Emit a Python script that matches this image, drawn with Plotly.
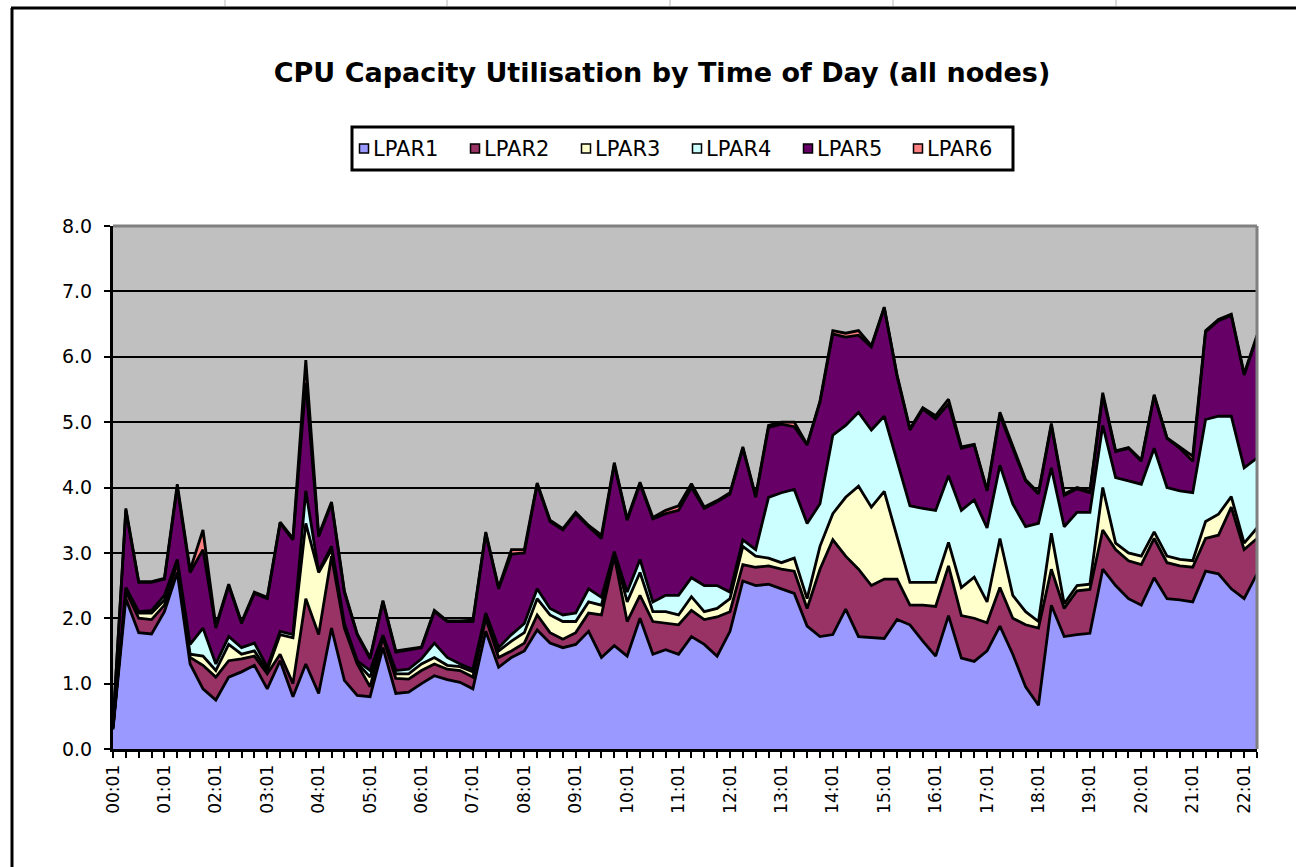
import plotly.graph_objects as go

# Sample times (15-minute intervals)
times = [
    "00:01", "00:16", "00:31", "00:46", "01:01", "01:16", "01:31", "01:46",
    "02:01", "02:16", "02:31", "02:46", "03:01", "03:16", "03:31", "03:46",
    "04:01", "04:16", "04:31", "04:46", "05:01", "05:16", "05:31", "05:46",
    "06:01", "06:16", "06:31", "06:46", "07:01", "07:16", "07:31", "07:46",
    "08:01", "08:16", "08:31", "08:46", "09:01", "09:16", "09:31", "09:46",
    "10:01", "10:16", "10:31", "10:46", "11:01", "11:16", "11:31", "11:46",
    "12:01", "12:16", "12:31", "12:46", "13:01", "13:16", "13:31", "13:46",
    "14:01", "14:16", "14:31", "14:46", "15:01", "15:16", "15:31", "15:46",
    "16:01", "16:16", "16:31", "16:46", "17:01", "17:16", "17:31", "17:46",
    "18:01", "18:16", "18:31", "18:46", "19:01", "19:16", "19:31", "19:46",
    "20:01", "20:16", "20:31", "20:46", "21:01", "21:16", "21:31", "21:46",
    "22:01", "22:16",
]

# CPU capacity used per LPAR (processing units)
lpar1 = [0.30, 2.30, 1.78, 1.76, 2.10, 2.70, 1.30, 0.92, 0.75, 1.10,
         1.18, 1.28, 0.92, 1.35, 0.80, 1.30, 0.85, 1.85, 1.05, 0.82,
         0.80, 1.55, 0.85, 0.87, 1.00, 1.12, 1.06, 1.02, 0.92, 1.80,
         1.25, 1.40, 1.50, 1.82, 1.62, 1.55, 1.60, 1.80, 1.40, 1.58,
         1.42, 2.00, 1.45, 1.52, 1.45, 1.72, 1.60, 1.42, 1.80, 2.57,
         2.50, 2.52, 2.45, 2.38, 1.88, 1.72, 1.75, 2.14, 1.72, 1.70,
         1.69, 1.98, 1.90, 1.65, 1.42, 2.04, 1.39, 1.34, 1.50, 1.88,
         1.45, 0.95, 0.67, 2.20, 1.72, 1.75, 1.77, 2.75, 2.50, 2.30,
         2.20, 2.62, 2.30, 2.28, 2.25, 2.72, 2.68, 2.45, 2.30, 2.68]
lpar2 = [0.03, 0.12, 0.22, 0.22, 0.10, 0.15, 0.10, 0.36, 0.35, 0.25,
         0.20, 0.14, 0.23, 0.10, 0.20, 1.00, 0.90, 1.10, 0.80, 0.48,
         0.15, 0.15, 0.23, 0.20, 0.20, 0.18, 0.16, 0.18, 0.18, 0.20,
         0.15, 0.10, 0.12, 0.23, 0.16, 0.13, 0.18, 0.28, 0.65, 1.37,
         0.53, 0.35, 0.50, 0.40, 0.45, 0.40, 0.38, 0.60, 0.30, 0.25,
         0.28, 0.28, 0.30, 0.34, 0.27, 1.03, 1.45, 0.81, 1.03, 0.80,
         0.91, 0.62, 0.30, 0.55, 0.76, 0.76, 0.65, 0.66, 0.43, 0.59,
         0.55, 0.95, 1.18, 0.55, 0.43, 0.67, 0.67, 0.60, 0.55, 0.58,
         0.62, 0.60, 0.55, 0.52, 0.53, 0.50, 0.59, 1.25, 0.75, 0.54]
lpar3 = [0.00, 0.03, 0.08, 0.10, 0.08, 0.03, 0.05, 0.14, 0.10, 0.25,
         0.07, 0.08, 0.05, 0.30, 0.70, 1.15, 0.95, 0.10, 0.05, 0.02,
         0.15, 0.02, 0.07, 0.08, 0.10, 0.10, 0.06, 0.06, 0.08, 0.05,
         0.10, 0.15, 0.16, 0.25, 0.27, 0.27, 0.17, 0.17, 0.15, 0.05,
         0.30, 0.35, 0.15, 0.18, 0.15, 0.21, 0.12, 0.13, 0.20, 0.28,
         0.17, 0.12, 0.10, 0.20, 0.15, 0.35, 0.40, 0.90, 1.27, 1.20,
         1.34, 0.65, 0.35, 0.35, 0.37, 0.36, 0.43, 0.63, 0.32, 0.75,
         0.35, 0.20, 0.10, 0.55, 0.07, 0.08, 0.08, 0.65, 0.10, 0.12,
         0.13, 0.10, 0.10, 0.10, 0.10, 0.26, 0.32, 0.16, 0.10, 0.16]
lpar4 = [0.00, 0.02, 0.02, 0.04, 0.07, 0.02, 0.15, 0.43, 0.10, 0.12,
         0.10, 0.12, 0.05, 0.05, 0.05, 0.50, 0.02, 0.05, 0.02, 0.03,
         0.10, 0.02, 0.05, 0.07, 0.08, 0.22, 0.12, 0.04, 0.04, 0.03,
         0.05, 0.10, 0.14, 0.15, 0.10, 0.10, 0.13, 0.20, 0.12, 0.02,
         0.15, 0.20, 0.15, 0.25, 0.30, 0.29, 0.40, 0.35, 0.10, 0.10,
         0.10, 0.93, 1.07, 1.05, 1.15, 0.65, 1.20, 1.10, 1.13, 1.18,
         1.15, 1.15, 1.17, 1.13, 1.10, 1.02, 1.18, 1.18, 1.13, 1.12,
         1.40, 1.30, 1.50, 1.00, 1.18, 1.12, 1.10, 0.95, 1.00, 1.10,
         1.10, 1.28, 1.05, 1.05, 1.04, 1.56, 1.50, 1.23, 1.15, 1.07]
lpar5 = [0.05, 1.18, 0.45, 0.43, 0.25, 1.10, 1.10, 1.20, 0.55, 0.78,
         0.37, 0.76, 1.05, 1.65, 1.45, 1.65, 0.53, 0.65, 0.48, 0.40,
         0.18, 0.51, 0.28, 0.30, 0.17, 0.48, 0.55, 0.65, 0.73, 1.22,
         0.90, 1.23, 1.08, 1.60, 1.33, 1.30, 1.52, 0.95, 0.90, 1.33,
         1.10, 1.15, 1.27, 1.25, 1.30, 1.38, 1.18, 1.28, 1.50, 1.40,
         0.80, 1.07, 1.05, 0.96, 1.20, 1.55, 1.55, 1.35, 1.18, 1.27,
         1.66, 1.30, 1.16, 1.52, 1.40, 1.10, 0.95, 0.84, 0.57, 0.76,
         0.85, 0.70, 0.45, 0.65, 0.48, 0.36, 0.30, 0.45, 0.40, 0.50,
         0.35, 0.80, 0.75, 0.65, 0.48, 1.34, 1.46, 1.54, 1.42, 1.85]
lpar6 = [0.00, 0.03, 0.01, 0.01, 0.01, 0.05, 0.04, 0.30, 0.03, 0.02,
         0.02, 0.02, 0.02, 0.02, 0.02, 0.35, 0.02, 0.03, 0.02, 0.01,
         0.02, 0.02, 0.02, 0.01, 0.01, 0.02, 0.01, 0.01, 0.02, 0.02,
         0.02, 0.07, 0.05, 0.02, 0.02, 0.02, 0.02, 0.02, 0.05, 0.03,
         0.02, 0.03, 0.02, 0.05, 0.07, 0.06, 0.02, 0.02, 0.02, 0.02,
         0.02, 0.03, 0.03, 0.07, 0.01, 0.02, 0.05, 0.06, 0.07, 0.02,
         0.01, 0.02, 0.02, 0.02, 0.05, 0.07, 0.02, 0.01, 0.01, 0.05,
         0.02, 0.02, 0.02, 0.03, 0.02, 0.02, 0.02, 0.05, 0.01, 0.01,
         0.02, 0.02, 0.01, 0.02, 0.08, 0.02, 0.02, 0.02, 0.02, 0.03]

series_names = ["LPAR1", "LPAR2", "LPAR3", "LPAR4", "LPAR5", "LPAR6"]
series_values = [lpar1, lpar2, lpar3, lpar4, lpar5, lpar6]
series_colors = ["#9999FF", "#993366", "#FFFFCC", "#CCFFFF", "#660066", "#FF8080"]

y_ticks = [0, 1, 2, 3, 4, 5, 6, 7, 8]
x_ticktext = [t if k % 4 == 0 else "" for k, t in enumerate(times)]

FONT = "DejaVu Sans"
W, H = 1296, 867
PL, PR, PT, PB = 113, 1257, 226, 749   # plot area edges in pixels


def fx(px):
    return (px - PL) / (PR - PL)


def fy(py):
    return (PB - py) / (PB - PT)


fig = go.Figure()
for name, vals, color in zip(series_names, series_values, series_colors):
    fig.add_trace(go.Scatter(
        x=times, y=vals, name=name, mode="lines",
        stackgroup="cpu", fillcolor=color,
        line=dict(color="black", width=2.8),
        showlegend=False,
    ))

shapes = []
# chart-area frame (left and top edges)
shapes.append(dict(type="line", xref="paper", yref="paper",
                   x0=fx(12), x1=fx(12), y0=fy(8), y1=fy(H + 5),
                   line=dict(color="black", width=3)))
shapes.append(dict(type="line", xref="paper", yref="paper",
                   x0=fx(11), x1=fx(W + 5), y0=fy(8), y1=fy(8),
                   line=dict(color="black", width=3)))
# worksheet column separators peeking above the chart
for cx in [225, 447, 670, 893, 1116]:
    shapes.append(dict(type="line", xref="paper", yref="paper",
                       x0=fx(cx), x1=fx(cx), y0=fy(0), y1=fy(6),
                       line=dict(color="#B8B8B8", width=1)))
# grey plot-area border on top and right
shapes.append(dict(type="line", xref="paper", yref="paper", layer="above",
                   x0=0, x1=1, y0=1, y1=1, line=dict(color="#808080", width=3)))
shapes.append(dict(type="line", xref="paper", yref="paper", layer="above",
                   x0=1, x1=1, y0=0, y1=1, line=dict(color="#808080", width=3)))

# legend box
LG_L, LG_R, LG_T, LG_B = 352, 1013, 127, 170
shapes.append(dict(type="rect", xref="paper", yref="paper",
                   x0=fx(LG_L), x1=fx(LG_R), y0=fy(LG_T), y1=fy(LG_B),
                   fillcolor="white", line=dict(color="black", width=3)))
annotations = []
legend_x = [364, 475, 586, 697, 808, 918]
legend_y = 148.5
for lx, name, color in zip(legend_x, series_names, series_colors):
    shapes.append(dict(type="rect", xref="paper", yref="paper",
                       x0=fx(lx - 4.5), x1=fx(lx + 4.5),
                       y0=fy(legend_y - 4.5), y1=fy(legend_y + 4.5),
                       fillcolor=color, line=dict(color="black", width=1.5)))
    annotations.append(dict(xref="paper", yref="paper", x=fx(lx + 7), y=fy(legend_y),
                            xanchor="left", yanchor="middle", text=name, showarrow=False,
                            font=dict(family=FONT, size=21, color="black")))

fig.update_layout(
    width=W, height=H,
    margin=dict(l=PL, r=W - PR, t=PT, b=H - PB, pad=0),
    paper_bgcolor="white",
    plot_bgcolor="#C0C0C0",
    title=dict(text="<b>CPU Capacity Utilisation by Time of Day (all nodes)</b>",
               x=662 / W, xanchor="center", y=1 - 73 / H, yanchor="middle",
               font=dict(family=FONT, size=27, color="black")),
    shapes=shapes,
    annotations=annotations,
    showlegend=False,
)

fig.update_xaxes(
    type="category", range=[0, len(times) - 1],
    tickmode="array", tickvals=times, ticktext=x_ticktext,
    tickangle=-90, ticks="outside", ticklen=6, tickwidth=2, tickcolor="black",
    showline=True, linecolor="black", linewidth=3, showgrid=False,
    tickfont=dict(family=FONT, size=17, color="black"),
)
fig.update_yaxes(
    range=[0, 8], tickmode="array", tickvals=y_ticks, tickformat=".1f",
    ticks="outside", ticklen=6, tickwidth=2, tickcolor="black",
    showline=True, linecolor="black", linewidth=3,
    showgrid=True, gridcolor="black", gridwidth=2, zeroline=False,
    ticklabelstandoff=8,
    tickfont=dict(family=FONT, size=19, color="black"),
)

fig.write_html("out.html")
